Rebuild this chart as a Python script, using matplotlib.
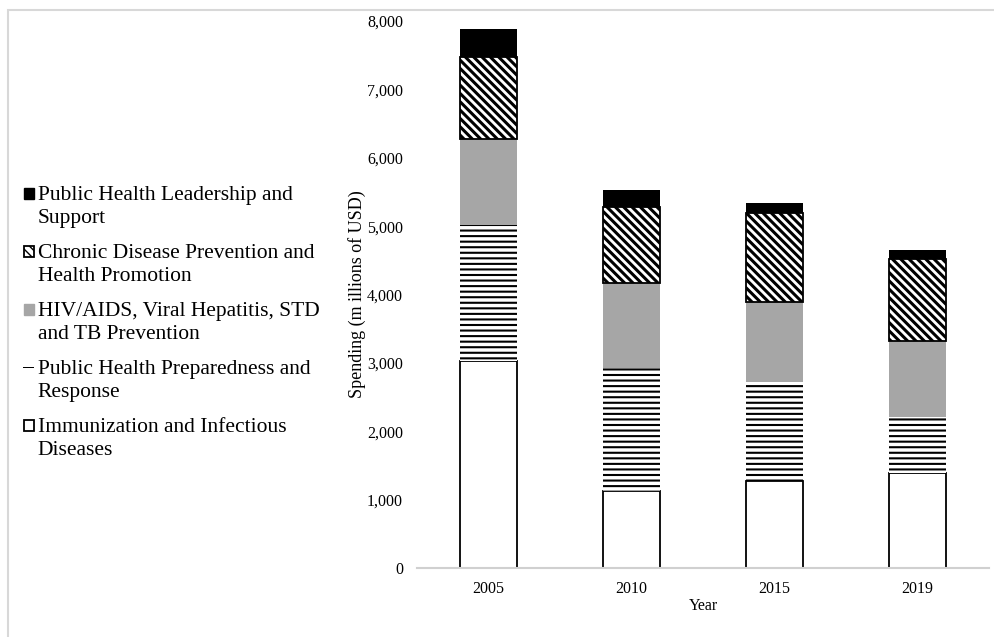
import matplotlib as mpl
mpl.use('Agg')
import matplotlib.pyplot as plt
from matplotlib.patches import Rectangle
from matplotlib.legend_handler import HandlerPatch
from matplotlib.ticker import FuncFormatter

years = ['2005', '2010', '2015', '2019']

# spending by program, millions of USD
immunization = [3030, 1130, 1270, 1390]
preparedness = [1990, 1800, 1450, 820]
hiv_aids = [1250, 1240, 1170, 1110]
chronic = [1200, 1110, 1300, 1200]
leadership = [410, 250, 150, 130]

labels = [
    'Immunization and Infectious\nDiseases',
    'Public Health Preparedness and\nResponse',
    'HIV/AIDS, Viral Hepatitis, STD\nand TB Prevention',
    'Chronic Disease Prevention and\nHealth Promotion',
    'Public Health Leadership and\nSupport',
]

plt.rcParams['font.family'] = ['Liberation Serif', 'DejaVu Serif']

fig = plt.figure(figsize=(9.94, 6.37), dpi=100)
ax = fig.add_axes([0.4195, 0.1083, 0.5755, 0.8587])

x = list(range(len(years)))
w = 0.4
styles = [
    dict(facecolor='white', edgecolor='black', linewidth=1.3),
    dict(facecolor='white', edgecolor='black', linewidth=0, hatch='---'),
    dict(facecolor='#a6a6a6', edgecolor='#a6a6a6', linewidth=0),
    dict(facecolor='white', edgecolor='black', linewidth=1.3, hatch='\\\\\\\\'),
    dict(facecolor='black', edgecolor='black', linewidth=0),
]
hatch_lw = [1.0, 1.5, 1.0, 2.2, 1.0]
series = [immunization, preparedness, hiv_aids, chronic, leadership]

bottom = [0] * len(years)
for vals, st, hlw in zip(series, styles, hatch_lw):
    with plt.rc_context({'hatch.linewidth': hlw}):
        bars = ax.bar(x, vals, w, bottom=bottom, **st)
    for b in bars:
        if hasattr(b, 'set_hatch_linewidth'):
            b.set_hatch_linewidth(hlw)
    bottom = [b + v for b, v in zip(bottom, vals)]

ax.set_xlim(-0.5, 3.5)
ax.set_ylim(0, 8000)
ax.set_yticks(range(0, 8001, 1000))
ax.yaxis.set_major_formatter(FuncFormatter(lambda v, p: f'{int(v):,}'))
ax.set_xticks(x)
ax.set_xticklabels(years)
ax.tick_params(axis='both', length=0, labelsize=11.5)
ax.tick_params(axis='y', pad=10)
ax.tick_params(axis='x', pad=9)
for side in ['top', 'right', 'left']:
    ax.spines[side].set_visible(False)
ax.spines['bottom'].set_color('#d0d0d0')
ax.spines['bottom'].set_linewidth(1.5)

ax.set_xlabel('Year', fontsize=11.5, labelpad=1)
ax.set_ylabel('Spending (m illions of USD)', fontsize=13, labelpad=1)


# legend keys sit beside the first line of each two-line label
def first_line_key(legend, orig_handle, xdescent, ydescent, width, height, fontsize):
    side = 0.5 * fontsize
    yc = -ydescent + height / 2 + 0.6 * fontsize
    if orig_handle.get_gid() == 'dash':
        return Rectangle((-xdescent, yc - 0.5), width, 1.0)
    return Rectangle((-xdescent + width - side, yc - side / 2), side, side)


keys = []
for st, lab in zip(styles, labels):
    st = dict(st)
    if st.get('hatch') == '---':
        st = dict(facecolor='black', edgecolor='black', linewidth=0)
        key = Rectangle((0, 0), 1, 1, label=lab, gid='dash', **st)
    else:
        st['linewidth'] = max(st['linewidth'], 1.0)
        key = Rectangle((0, 0), 1, 1, label=lab, **st)
    keys.append(key)

leg = fig.legend(keys[::-1], labels[::-1], loc='upper left',
                 bbox_to_anchor=(0.014, 0.722), frameon=False, fontsize=15.5,
                 handlelength=0.55, handleheight=0.7, handletextpad=0.15,
                 labelspacing=0.72, borderaxespad=0,
                 handler_map={Rectangle: HandlerPatch(patch_func=first_line_key)})
for t in leg.get_texts():
    t.set_linespacing(1.32)

# light frame around the figure panel
fig.patches.append(Rectangle((8 / 994, -0.1), 1.1, (637 - 10) / 637 + 0.1,
                             transform=fig.transFigure, fill=False,
                             edgecolor='#d8d8d8', linewidth=1.5))

fig.savefig('out.png', dpi=100)
